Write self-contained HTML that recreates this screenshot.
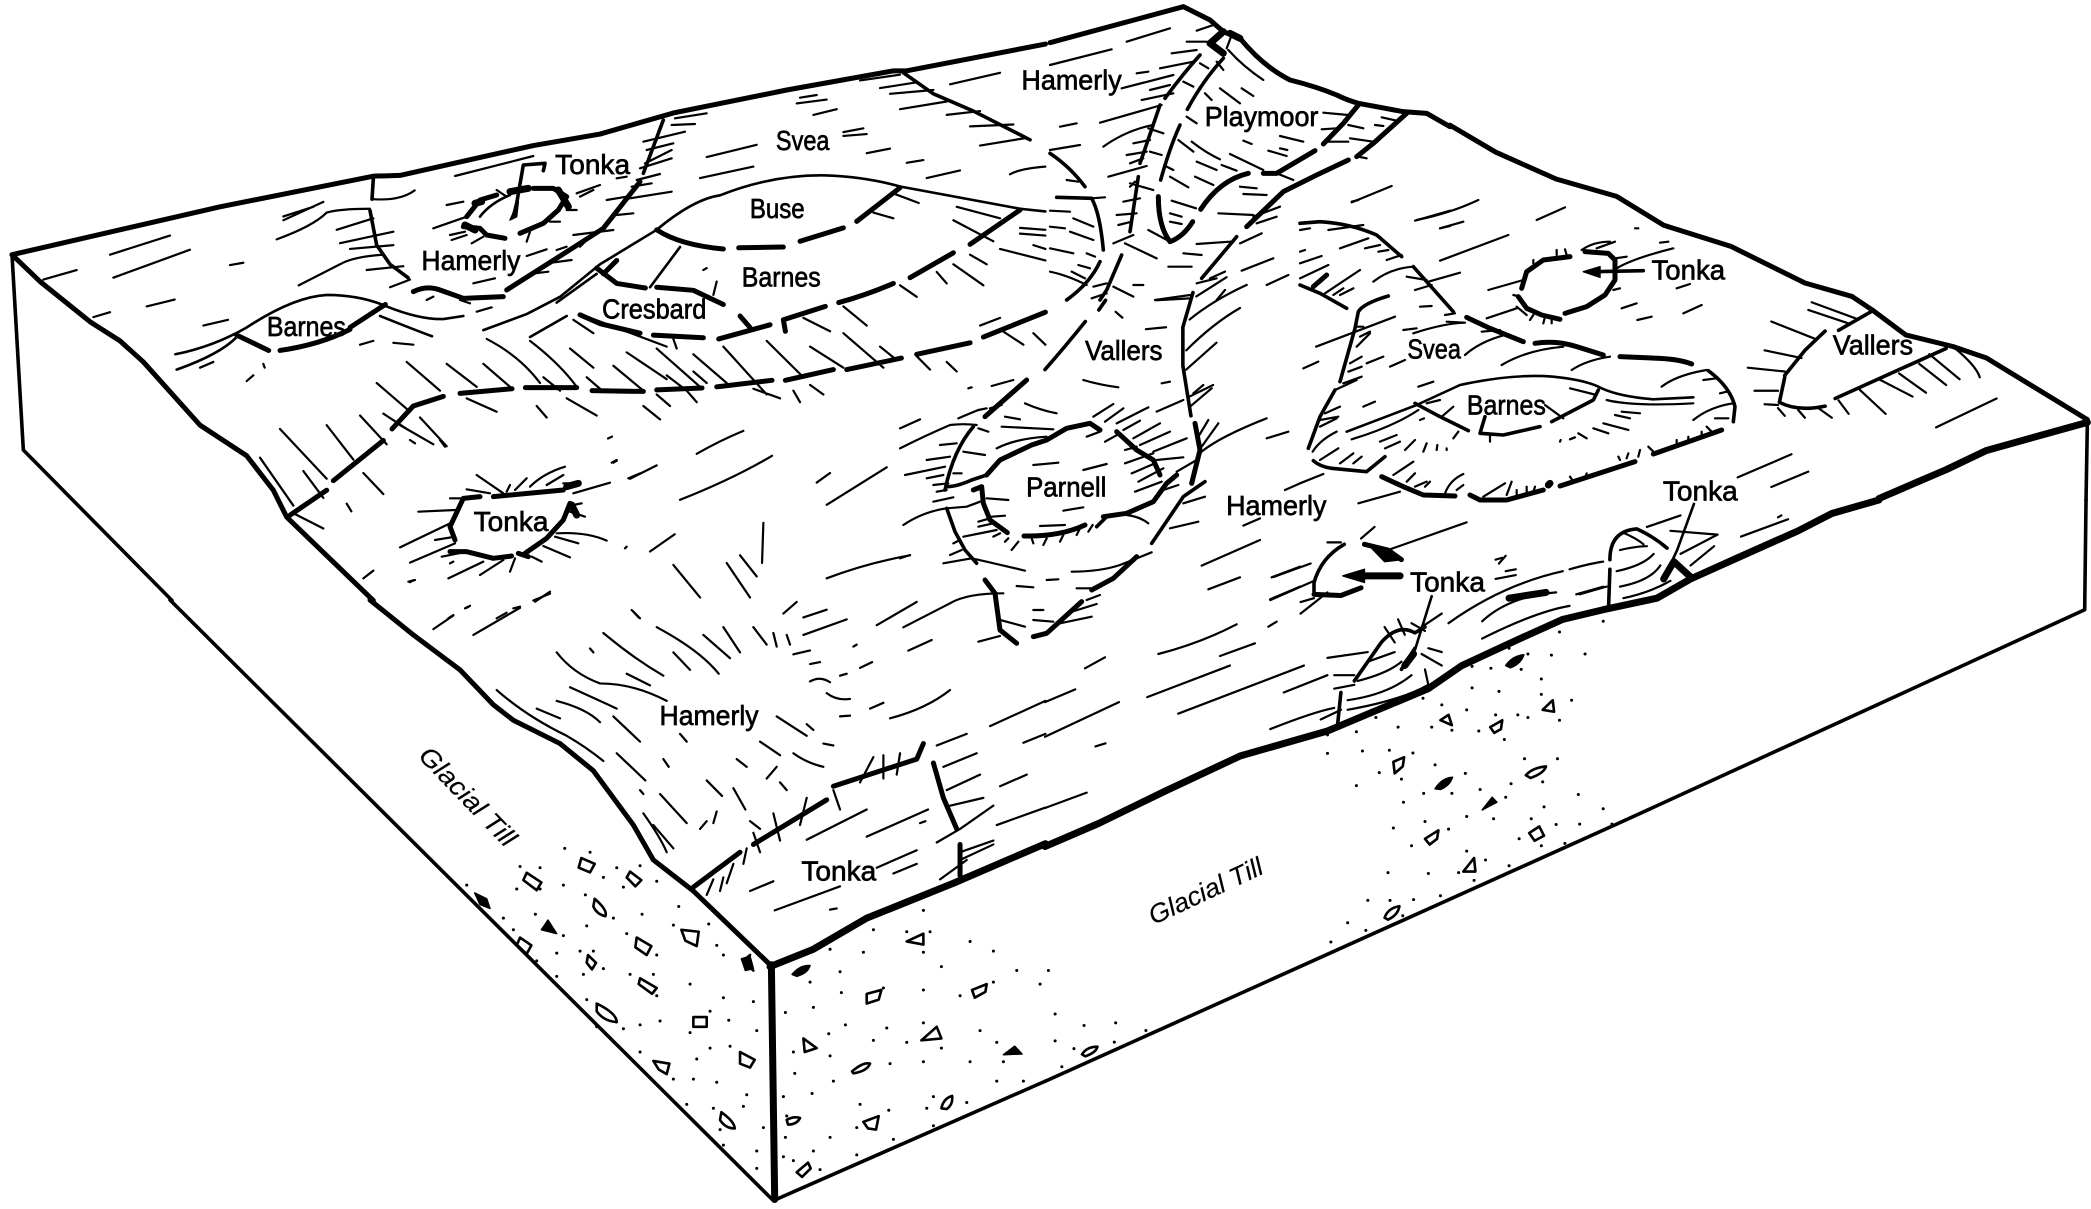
<!DOCTYPE html>
<html><head><meta charset="utf-8"><style>
html,body{margin:0;padding:0;background:#fff}
svg{display:block}
path{fill:none;stroke:#000;vector-effect:non-scaling-stroke;stroke-linecap:round;stroke-linejoin:round}
.t{stroke-width:2.2}.m{stroke-width:3.6}.k{stroke-width:5}.x{stroke-width:7}
.s{stroke-width:2.6}.f{fill:#000;stroke-width:1.5}
.d{stroke-width:3}
text{font-family:"Liberation Sans Narrow","Liberation Sans",sans-serif;font-size:21px;fill:#000;stroke:#000;stroke-width:.5;text-anchor:middle}
</style></head><body>
<svg width="2091" height="1209" viewBox="0 0 2091 1209" xmlns="http://www.w3.org/2000/svg">
<rect width="2091" height="1209" fill="#fff"/>

<!-- tile 1 -->
<g transform="scale(.6667,.383)">
<path class="k" d="M18,665 L330,540 L560,460 L600,458 L800,380 L900,350 L1010,295 L1180,235 L1340,185 L1360,185 L1568,115"/>
<path class="k" d="M18,665 L60,735 L135,840 L180,890 L215,945 L300,1110 L370,1190 L410,1280 L430,1350 L560,1568"/>
<path class="m" d="M18,665 L35,1175 L258,1568"/>
<path class="t" d="M165,665 L255,615M170,725 L285,652M345,692 L365,686M65,730 L115,705M220,800 L262,782M140,828 L165,815M305,850 L342,835M560,520 Q600,525 622,497M425,575 L485,527M425,565 L470,540M415,625 Q470,590 490,555 Q510,545 555,545M448,745 L510,690 Q530,670 575,665M505,600 L560,570M510,635 L590,605M525,650 L590,640M550,705 L605,695M585,750 L615,730M1060,410 L1135,378M1050,465 L1130,435M1200,255 L1225,248M1195,270 L1240,260M1220,300 L1255,285M1265,345 L1295,335M1265,355 L1300,350M1300,400 L1335,388M1360,425 L1385,418M1390,465 L1440,445M1425,220 L1500,190"/>
<path class="m" d="M560,465 L558,520M555,550 L565,640 L585,690 L612,725M1355,190 L1400,245 L1460,290 L1545,365"/>
<path class="t" d="M1290,210 L1350,195M1320,230 L1375,215M1335,245 L1400,235M1350,285 L1420,265M1420,300 L1470,290M1455,330 L1520,325M1470,380 L1540,360M1515,455 Q1530,440 1568,435M1340,505 L1378,530M1310,555 L1340,570M1435,540 L1500,570M1430,575 L1490,630M1530,595 L1568,600M1500,650 L1568,680M1530,610 L1568,615M1550,640 L1568,650"/>
<path class="s" d="M985,600 Q1040,520 1080,510 Q1160,455 1240,458 Q1300,462 1350,487 L1530,545 L1568,552M985,600 L900,690 L840,775 L790,820 L725,862M895,715 L835,790M795,880 L850,825M263,925 Q320,905 370,855 Q440,775 490,770 Q540,770 580,800 Q630,835 665,833 L695,825M265,965 Q330,925 355,880M570,825 Q620,860 648,878M1020,645 L975,750"/>
<path class="k" d="M985,600 Q1020,640 1085,650M1108,647 L1175,645M1200,630 L1265,595M1285,578 L1350,490M1530,548 L1455,638M1430,660 L1365,725M1340,740 Q1300,770 1258,790M1238,800 L1175,835 L1178,865M1155,848 L1078,885M1055,882 L980,875M960,870 L900,845 L870,822M895,700 L925,740 L968,752M985,750 L1040,758 L1085,795M1110,825 L1125,855M925,680 L905,715M578,795 L525,855M355,875 L403,915M420,915 Q480,900 525,860M1475,880 L1568,815M1375,925 L1455,895M1270,965 L1352,935M1178,993 L1250,965M1075,1010 L1158,993M985,1018 L1053,1013M888,1020 L965,1022M788,1012 L865,1012M690,1027 L768,1015M665,1035 L620,1060 L588,1120M575,1150 L500,1255M490,1280 L435,1345"/>
<path class="t" d="M730,885 Q780,930 810,1000M795,890 Q840,950 865,1010M855,910 L890,960M920,955 L965,1020M940,920 L1000,990M985,910 L1050,1010M1040,925 L1090,1000M1085,905 L1150,1030M1150,890 L1205,985M1215,905 L1265,960M1265,870 L1325,960M1320,905 L1345,940M610,945 L660,1020M670,950 L715,1010M725,950 L765,1010M565,1000 L615,1075M700,1040 L745,1075M805,1060 L820,1090M850,1040 L895,1085M965,1060 L990,1095M985,1030 L1005,1060M1030,1020 L1045,1050M1130,1015 L1170,1040M1190,1020 L1200,1050M1215,1005 L1235,1030M1420,945 L1435,970M1375,930 L1395,965M1265,800 L1300,850M1205,830 L1245,865M1350,745 L1375,775M1405,710 L1420,740M1430,690 L1475,745M1455,665 L1480,690M1470,850 L1500,830M1500,860 L1535,900M1550,870 L1568,900M1040,970 L1060,1000M880,985 L900,1015M815,985 L840,1020M1000,980 L1030,1020M420,1120 L490,1250M490,1110 L530,1200M540,1085 L580,1160M575,1080 L610,1120M600,1110 L650,1160M630,1090 L670,1165M545,1235 L575,1290M390,1195 L440,1320M455,1230 L485,1300M520,1315 L527,1335M440,1340 L485,1380M1045,1185 Q1080,1150 1115,1125M1020,1305 Q1100,1250 1158,1190M945,1250 L985,1215M1240,1318 L1330,1220M1225,1260 L1245,1235M912,1145 L918,1140M920,1208 L925,1203M1240,1510 Q1300,1470 1365,1450M1145,1365 L1143,1470M1110,1450 L1135,1505M1010,1475 L1050,1560M1090,1470 L1125,1560M975,1440 L1012,1395M825,1550 L800,1568M545,1510 L560,1490M615,1520 L620,1515M870,820 L1000,905M1010,885 L1015,910M860,835 L890,870M1075,735 L1070,770M1055,705 L1060,700M380,980 L370,995M395,950 L397,960M300,960 L320,945M540,900 L560,890M590,895 L620,900"/>
</g>

<!-- tile 2 -->
<g transform="translate(1045,0) scale(.6725,.385)">
<path class="k" d="M602,325 L670,395 L760,465 L850,510 L920,585 L1020,640 L1130,735 L1200,770 L1230,805 L1280,870 L1350,900 L1400,930 L1550,1090"/>
<path class="m" d="M1550,1095 L1548,1300"/>
<path class="x" d="M1240,1295 L1340,1220 L1400,1170 L1550,1097"/>
<path class="t" d="M165,780 L215,775M150,855 L180,850M105,810 L115,825M225,770 L270,720M215,830 Q250,780 300,740M210,910 Q250,840 290,800M210,960 L255,890M215,1030 L250,1000M880,705 L880,705"/>
<path class="m" d="M90,780 L80,805M60,835 Q30,900 0,960"/>
<path class="m" d="M220,760 L205,850 L205,950 L217,1080"/>
<path class="m" d="M1100,975 L1130,910 L1160,860M1228,810 L1180,858M1340,905 L1175,1035M1100,980 L1092,1045 Q1120,1070 1160,1055"/>
<path class="t" d="M1080,835 L1145,880M1070,910 L1125,930M1045,955 L1100,965M1140,785 L1210,830M1135,805 L1195,840M1350,900 Q1385,950 1390,980M1315,920 L1360,985M1300,945 L1340,1000M1270,970 L1310,1020M1240,985 L1290,1030M1210,1010 L1250,1075M1180,1040 L1195,1075M1055,1015 L1090,1015M1070,1050 L1090,1052M1090,1060 L1100,1080M1120,1065 L1130,1085M1150,1060 L1170,1085M1325,1110 L1415,1035M1030,1240 L1110,1180M1080,1265 L1135,1225"/>
</g>

<!-- tile 3 -->
<g transform="translate(0,600) scale(.6667,.388)">
<path class="k" d="M555,0 L620,90 L690,180 L740,270 L770,310 L840,370 L890,440 L950,580 L980,670 L1040,750 L1155,940"/>
<path class="x" d="M1157,940 L1162,1545"/>
<path class="x" d="M1155,945 L1220,900 L1300,820 L1430,730 L1568,628"/>
<path class="m" d="M255,0 L1160,1548 L1568,1240"/>
<path class="t" d="M650,75 L680,40M710,90 L780,20M700,20 L705,15M950,30 L958,45M1175,35 L1195,5M1205,90 L1270,50M1205,45 L1240,25M1315,65 L1375,5M1280,120 L1285,115M1290,175 L1308,160M1305,280 L1325,265M1335,305 Q1390,280 1425,232M835,135 Q860,190 900,215 Q950,215 1000,260M905,85 Q950,150 995,195M985,70 Q1050,130 1078,190M1010,135 L1035,180M1055,90 L1095,150M1085,70 L1110,135M1130,70 L1150,115M1160,85 L1165,120M1180,90 L1185,115M855,225 Q900,260 925,280M835,260 Q880,280 900,315M805,280 L840,305M940,190 L975,220M920,300 L960,365M925,395 L968,465M995,410 L1003,430M1105,410 L1120,430M1060,465 L1083,505M990,500 L1030,575M960,490 L965,500M1100,485 L1118,540M1165,300 L1210,350M1140,365 L1170,400M1210,320 L1220,335M1020,345 L1030,365M885,125 L890,135M1190,395 Q1210,420 1235,430M1235,370 L1250,375M1240,240 Q1255,260 1275,255M1215,210 Q1230,195 1245,212M1190,140 L1215,130M1215,165 L1230,160M1260,195 L1270,190M1260,300 L1275,298M965,550 Q990,610 1000,650M980,580 L1010,640M1125,570 L1140,590M1165,430 L1150,460M1050,590 L1060,570M1075,545 L1070,575M1170,470 L1180,490M745,232 Q790,300 850,350 Q880,380 905,415M1060,760 L1070,720M1090,730 L1100,680M1115,680 L1120,640M1140,650 L1130,600M1170,620 L1160,550M1200,580 L1210,510M1260,540 L1250,490M1290,470 L1310,405M1325,460 L1325,400M1345,450 L1350,395M1080,750 L1085,715M1405,375 L1450,345M1415,430 L1465,395M1420,490 L1470,450M1425,530 L1475,510M1440,590 L1490,530M1405,625 L1440,590M1440,650 L1490,620M1440,670 L1490,630M1410,720 L1450,670M1210,618 L1300,540M1300,610 L1392,540M1380,575 L1388,570M1495,580 L1568,535M1485,325 L1568,260M1535,368 L1568,345M1500,480 L1540,450M1315,690 L1375,645M1340,705 L1375,680M1125,750 L1160,725M1162,800 L1260,738M1245,798 L1255,795"/>
<path class="k" d="M1040,740 L1110,650M1130,630 L1240,515M1250,480 L1375,410 L1385,370M1400,420 L1415,510 L1435,590M1440,630 L1440,710"/>
<path class="d" d="M847,640h.1M780,687h.1M810,690h.1M925,690h.1M885,650h.1M905,715h.1M960,685h.1M985,725h.1M700,735h.1M775,745h.1M810,745h.1M845,735h.1M878,760h.1M935,740h.1M1018,790h.1M755,820h.1M803,810h.1M770,850h.1M880,840h.1M920,820h.1M963,810h.1M1010,838h.1M1063,835h.1M845,865h.1M940,860h.1M835,910h.1M870,905h.1M890,905h.1M985,915h.1M1075,890h.1M1085,915h.1M805,930h.1M835,970h.1M875,965h.1M905,950h.1M945,965h.1M980,965h.1M1035,990h.1M1085,1025h.1M1130,1035h.1M985,1020h.1M880,1030h.1M960,1095h.1M990,1085h.1M1065,1060h.1M1093,1083h.1M1035,1115h.1M1135,1110h.1M935,1105h.1M895,1100h.1M1065,1155h.1M1095,1150h.1M960,1165h.1M1045,1183h.1M1010,1235h.1M1040,1235h.1M1075,1243h.1M1120,1275h.1M1030,1300h.1M1070,1310h.1M1115,1305h.1M1145,1360h.1M1085,1405h.1M1135,1420h.1M1080,1365h.1M1135,1465h.1M1260,958h.1M1215,985h.1M1245,900h.1M1295,908h.1M1385,800h.1M1310,850h.1M1360,855h.1M1395,855h.1M1455,880h.1M1412,945h.1M1490,905h.1M1525,955h.1M1385,908h.1M1262,1012h.1M1220,1050h.1M1178,1063h.1M1325,1000h.1M1385,1005h.1M1490,985h.1M1440,1020h.1M1560,990h.1M1268,1095h.1M1330,1103h.1M1385,1090h.1M1243,1118h.1M1470,1110h.1M1190,1165h.1M1412,1155h.1M1360,1140h.1M1495,1140h.1M1245,1175h.1M1455,1190h.1M1385,1190h.1M1505,1190h.1M1310,1135h.1M1192,1220h.1M1250,1240h.1M1495,1240h.1M1535,1240h.1M1335,1195h.1M1218,1272h.1M1175,1280h.1M1400,1280h.1M1450,1295h.1M1290,1300h.1M1333,1315h.1M1390,1310h.1M1180,1330h.1M1178,1385h.1M1285,1360h.1M1400,1355h.1M1340,1390h.1M1245,1385h.1M1220,1420h.1M1285,1430h.1M1175,1435h.1M1230,1468h.1M1190,1445h.1"/>
<path class="s" d="M790,703 L812,728 L805,748 L785,722zM872,665 L892,680 L885,702 L868,690zM945,700 L962,722 L953,738 L940,715zM892,770 Q912,800 908,815 Q895,810 890,790zM780,870 L797,890 L790,912 L775,890zM955,870 L977,892 L970,915 L953,895zM1022,850 L1048,855 L1045,892 L1028,878zM882,915 L894,935 L888,952 L880,935zM960,975 L985,1000 L978,1015 L958,990zM895,1040 Q925,1065 925,1088 Q905,1085 895,1060zM1040,1075 L1060,1075 L1060,1100 L1040,1100zM980,1188 L1004,1195 L1000,1222 L988,1210zM1110,1165 L1132,1185 L1125,1205 L1110,1195zM1082,1320 Q1102,1345 1102,1362 Q1088,1362 1080,1340zM1360,880 L1385,860 L1385,888zM1300,1015 L1322,1005 L1318,1030 L1300,1040zM1458,1005 L1480,990 L1478,1010 L1462,1025zM1382,1135 L1405,1100 L1412,1130zM1205,1130 L1225,1155 L1207,1165zM1278,1215 Q1295,1190 1305,1195 Q1300,1215 1280,1220zM1412,1310 Q1415,1285 1428,1278 Q1430,1300 1420,1312zM1295,1345 L1318,1330 L1314,1365 L1302,1362zM1180,1340 Q1190,1330 1200,1335 Q1195,1352 1182,1352zM1195,1475 L1212,1450 L1216,1465 L1203,1487z"/>
<path class="f" d="M712,755 L730,770 L735,795 L720,785zM812,850 L822,825 L835,860zM1112,925 L1125,918 L1130,950 L1118,955zM1188,965 Q1200,940 1215,942 Q1212,962 1195,970zM1505,1172 L1522,1150 L1533,1170z"/>
<path class="s" d="M1125,915 L1115,930 L1130,955"/>
</g>

<!-- tile 4 -->
<g transform="translate(1045,500) scale(.6725,.385)">
<path class="x" d="M0,900 L80,840 L180,755 L290,665 L420,600 L570,490 L620,430 L700,365 L770,310 L830,285 L910,255 L960,205 L1030,150 L1120,80 L1170,35 L1240,0"/>
<path class="m" d="M1548,0 L1546,285 L850,842 L0,1510"/>
<path class="m" d="M400,215 Q410,150 445,115M400,215 L400,245"/>
<path class="k" d="M475,115 L510,130 L530,155M400,245 L440,248 L470,228"/>
<path class="x" d="M465,197 L528,197"/><path class="f" d="M443,197 L475,180 L475,214z M480,115 L530,155 L505,160z"/>
<path class="t" d="M510,130 L627,58M340,200 L395,165M335,260 L400,210M380,295 L420,240M380,265 L400,255M470,100 L490,70M440,110 L420,110M0,525 L45,492M152,512 L275,430M198,555 L385,430M355,500 L420,455M0,615 L110,525M75,640 L90,632M0,800 L62,760"/>
<path class="m" d="M460,470 Q480,420 500,370 Q525,320 550,345 L565,330M530,440 L550,385M840,155 Q840,80 880,75 Q905,95 925,125M440,500 L435,585M840,180 L838,280"/>
<path class="s" d="M575,250 L550,390M965,10 L940,130 L920,205"/>
<path class="t" d="M430,455 L460,455M420,410 L480,395M430,490 L460,480M410,570 L440,545M335,595 Q400,550 430,540M450,545 Q530,520 570,480M450,520 Q510,505 545,455M465,470 Q510,450 530,420M480,420 L520,395M560,400 L590,430M570,385 L590,395M565,440 L570,480M600,320 Q680,220 770,185M650,315 Q690,250 760,240M650,360 Q730,290 780,275M780,180 Q810,165 830,160M795,245 L835,225M670,205 L700,195M675,165 L685,145M670,155 L680,150M685,185 L700,180M790,245 L830,225M860,255 Q900,240 930,210M855,225 Q900,210 915,170M850,185 Q890,170 905,140M855,130 Q880,120 895,120M860,85 Q880,100 890,115M895,70 L945,40M930,80 L1000,90M945,140 L1000,90M960,170 L995,120M1035,95 L1105,50M1090,45 L1095,40M505,330 L520,370M525,310 L535,350M545,320 L565,340M590,295 L560,330"/>
<path class="x" d="M690,255 L745,240M920,205 L935,160 L960,200M535,430 L548,400"/>
<path class="d" d="M830,315h.1M765,343h.1M690,385h.1M635,432h.1M803,400h.1M753,403h.1M718,400h.1M663,437h.1M708,440h.1M738,465h.1M738,505h.1M783,520h.1M765,572h.1M635,488h.1M675,497h.1M627,545h.1M590,532h.1M562,515h.1M525,590h.1M492,565h.1M463,602h.1M420,610h.1M575,590h.1M605,598h.1M645,600h.1M703,558h.1M718,565h.1M670,558h.1M683,622h.1M420,658h.1M472,652h.1M512,650h.1M547,657h.1M580,688h.1M497,708h.1M530,725h.1M463,742h.1M625,710h.1M693,737h.1M740,732h.1M713,672h.1M762,672h.1M563,762h.1M605,762h.1M533,785h.1M647,752h.1M685,772h.1M793,765h.1M742,797h.1M830,802h.1M627,822h.1M667,828h.1M723,828h.1M760,843h.1M795,842h.1M843,842h.1M518,852h.1M565,835h.1M600,855h.1M545,898h.1M705,880h.1M738,898h.1M773,892h.1M627,912h.1M655,935h.1M690,950h.1M510,968h.1M570,970h.1M615,968h.1M638,988h.1M588,1028h.1M548,1038h.1M480,1040h.1M513,1040h.1M450,1098h.1M477,1118h.1M425,1148h.1M532,1080h.1M5,1222h.1M15,1335h.1M58,1365h.1M105,1358h.1M150,1378h.1M15,1405h.1M43,1425h.1M103,1408h.1M25,1472h.1"/>
<path class="s" d="M740,545 L755,520 L757,550zM588,572 L600,558 L605,585zM662,590 L680,572 L678,595 L668,605zM518,680 L534,668 L532,692 L520,710zM715,715 Q725,695 745,692 Q742,710 722,722zM565,880 L585,858 L583,880 L572,895zM720,865 L735,848 L742,872 L728,885zM622,965 L638,930 L640,965zM505,1085 Q510,1060 527,1055 Q525,1078 510,1090zM55,1440 Q62,1420 78,1420 Q76,1435 60,1445z"/>
<path class="f" d="M685,430 Q695,405 712,402 Q708,425 692,436zM580,750 Q590,722 606,720 Q602,742 588,752zM650,805 L665,772 L672,785z"/>
</g>

<!-- detail: Parnell -->
<g transform="translate(900,380) scale(.33333)">
<path class="t" d="M205,25 L215,22M275,18 L340,0M375,70 Q420,90 470,100M550,0 Q600,15 655,22M0,145 L60,118M0,205 Q80,165 150,135 Q190,130 230,135M120,195 L170,190M80,240 L150,230M190,215 L255,225M235,145 L265,155M15,285 L135,260M80,295 L130,285M100,315 L145,310M110,335 L140,330M100,365 L160,352M160,280 L185,280M175,115 Q210,100 235,90 L260,85M315,110 L360,118M270,85 L305,75M290,205 Q350,175 440,170M305,140 L460,148M580,110 L640,72M615,125 L670,85M650,130 L745,82M670,150 L720,122M700,175 L780,130M720,195 L810,155M675,210 L710,200M760,215 L860,175M770,240 L850,232M675,250 L760,220M695,280 L765,250M715,305 L790,265M705,335 L785,305M560,170 L600,155M615,185 L660,160M770,95 L850,60M870,80 L935,25M880,40 L910,15M785,10 L810,5M895,170 L925,120M905,200 L955,130M905,215 Q960,170 1100,115M830,275 L890,240M1100,175 L1165,155M680,405 Q720,410 745,430M790,330 L835,315M850,370 L915,350M810,445 L895,425M565,455 L578,435M420,438 L495,435M490,392 L550,382M400,490 L395,475M430,495 L440,475M480,485 L490,465M530,465 L540,445M260,355 L325,360M275,410 L315,407M235,425 L270,415M235,440 L280,430M190,470 L290,450M280,470 L300,460M315,485 L325,475M335,510 L355,485M400,255 L475,248M550,270 L620,252M10,435 Q70,395 140,385 L200,380 L240,365M130,550 L215,535 L260,545 L375,572M150,525 L185,510M160,490 L180,480M30,525 L0,535M350,618 L400,622M440,600 L475,598M515,575 Q600,575 660,555 L755,517M530,625 L575,625M560,660 L600,645M400,690 L430,690M400,720 L460,725M480,730 L575,710M500,700 L590,672M10,742 L150,670 Q200,640 310,640M300,720 L375,740M235,785 L300,768M25,812 L95,780M555,865 L615,832M905,557 L1080,480M925,628 L1020,592M1030,437 L1080,415M1115,592 L1200,560M1110,658 L1200,620M1105,740 L1130,725M775,822 Q900,790 1010,733M960,828 L1065,790M1155,330 L1200,310"/>
<path class="m" d="M220,140 Q160,210 135,330M140,320 Q170,320 215,300 L260,285M590,440 L620,410M140,385 L165,455 L195,510 L230,550M755,490 L850,350 L915,305"/>
<path class="k" d="M380,0 L255,110M260,285 L300,240 L395,195 L440,180 L500,145 L570,130 L600,150M650,155 L710,210 L760,240 L780,285M885,130 L900,210 L875,310M610,410 L680,400 L760,365 L800,310 L830,285M372,468 Q480,470 555,435M220,330 L245,320 L250,370 L270,420 L322,458M575,630 L640,595 L710,530M400,770 L440,760 L545,665M255,600 L285,640 L300,750 L350,790"/>
</g>

<!-- detail: Playmoor / top centre -->
<g transform="translate(1050,0) scale(.33333)">
<path class="k" d="M0,128 L400,20 L480,60 L520,95 L570,115 Q640,200 720,240 Q800,260 860,285 Q890,300 925,310 L1060,335 L1130,340 L1200,380"/>
<path class="x" d="M520,95 L480,130 L520,160M540,100 L570,115"/>
<path class="t" d="M530,145 L545,105M535,150 Q580,200 640,240M440,92 L490,75M410,125 L470,125M365,160 L440,150M330,205 L430,185M260,220 L295,215M215,265 L370,225M300,270 L360,255M275,300 L370,280M150,368 L335,315M30,380 L80,370M160,440 Q230,390 310,375M250,430 L300,420M230,465 L290,455M240,490 L280,475M295,385 L340,400M300,455 L335,465M175,530 L290,498M0,450 L90,435M230,125 L360,85M0,195 L185,148M450,190 L475,205M500,185 L520,210M400,245 L430,260M465,280 L485,300M510,265 L570,310M575,265 L610,288M410,350 L440,370M385,420 L430,455M425,425 Q470,460 510,478M540,462 L640,510M440,485 L500,510M515,495 L560,512M360,530 L415,562M435,530 L490,555M350,500 L370,510M690,408 L760,425M580,422 L605,432M655,452 L710,468M690,445 L712,450M820,338 L895,345M895,375 L940,385M815,388 L860,385M830,425 L895,425M900,415 L970,425M975,375 L1000,378M995,352 L1040,362M925,470 L950,475M680,520 L730,540M570,560 L620,565M580,582 L650,585M505,640 L610,645M365,602 L438,625M360,640 L395,650M360,665 L395,672M295,690 L360,725M225,730 L320,775M440,732 L540,725M400,760 L455,765M355,800 L425,800M250,855 L280,855M190,860 L250,890M575,812 L670,775M650,855 L715,825M905,607 L1025,558M1095,662 L1200,632M1170,685 L1200,678M610,650 L690,620M620,670 L680,650M570,730 L635,700M480,835 L525,815M440,850 L500,835M500,900 L525,870M315,900 L420,885M240,550 L310,570M220,605 L270,595M200,645 L260,640M205,675 L245,665M190,730 L250,705M240,560 L255,545M0,632 L60,635M70,655 L130,680M0,680 L45,685M60,695 L130,720M0,745 L70,760M110,760 L135,770M85,795 L120,805M0,815 Q50,825 110,855M65,815 L105,835M130,860 L170,850M125,895 L170,880M125,595 L165,592M50,540 L85,545"/>
<path class="m" d="M450,165 Q400,220 345,295M520,175 Q460,240 412,328M330,315 L270,490M390,375 Q360,440 332,540M265,530 L240,695M560,710 L455,835M0,460 Q60,500 105,560M20,592 L125,595 Q150,640 160,750M150,785 Q120,850 50,900M215,765 L170,870 L150,900"/>
<path class="k" d="M325,590 Q325,680 360,725 Q400,710 428,665M595,520 Q510,540 452,628M640,520 L680,520 L795,452M925,315 L880,370 L820,432M1070,340 L970,430 L920,470M895,480 L800,525 L700,575 L590,680"/>
</g>

<!-- detail: Tonka + scarp, top left -->
<g transform="translate(350,100) scale(.33333)">
<path class="k" d="M350,350 L390,300 L440,285M340,380 L390,385 L410,405 L465,415M510,400 L580,370 L625,330 L650,290 L610,265 L550,265M870,245 L760,385 L690,430 L470,570M190,575 Q230,555 270,570 L340,595 L460,590"/>
<path class="x" d="M625,270 L655,320M480,275 L535,265M375,310 L395,305M345,375 L375,390"/>
<path class="s" d="M390,350 Q420,310 480,285"/>
<path class="m" d="M490,350 L500,310 L520,195 L585,190 L580,212M880,220 L940,60"/>
<path class="f" d="M480,360 L505,305 L500,350z"/>
<path class="t" d="M250,385 L350,350M300,405 L345,395M305,420 L350,405M365,430 L400,410M290,315 L340,305M440,270 L470,290M530,425 L540,395M600,365 L630,365M650,330 L680,330M680,280 L750,255M690,290 L730,270M315,228 L550,168M975,55 L1070,40M965,75 L1035,72M880,125 L1005,95M890,150 L970,130M885,190 L965,150M870,205 L965,175M860,240 L930,222M845,260 L905,250M770,300 L830,290M840,295 L965,275M800,345 L850,340M670,405 L790,390M690,440 L720,410M530,468 L590,448M590,490 L665,480M620,450 L650,440M555,520 L595,515M800,235 L830,230M230,600 L250,590M330,600 L360,610M370,550 L435,535M380,635 L425,622"/>
</g>

<!-- detail: Svea / Barnes / Tonka right -->
<g transform="translate(1300,200) scale(.33333)">
<path class="m" d="M0,70 L60,65 Q150,70 230,105 L305,170M0,255 L60,280 L140,325M340,200 L460,335M265,288 Q190,310 175,335 L165,385 L120,545M105,570 L60,650 L25,745M345,610 L420,650 L505,692M895,570 L880,600 L755,665M720,680 L610,705 L540,700 L555,650M40,782 Q60,800 95,805 L200,815 L255,770M1225,512 Q1290,560 1305,620 L1300,665"/>
<path class="k" d="M40,260 L80,225M500,352 L570,385 L670,425M705,430 Q770,420 830,440 L910,465M960,470 L1080,475 Q1140,478 1175,492M810,170 L730,180 L680,215 L665,265M655,290 L680,325 L725,345 L780,358M795,340 L860,320 L915,285 L945,240 L945,180 L925,160 L855,155M245,830 L310,860 L370,885 L465,888M510,885 L540,900 L620,900 L730,870M780,858 L1005,785M1060,762 L1265,690"/>
<path class="x" d="M745,855 L750,850"/>
<path class="m" d="M880,215 L1030,212"/>
<path class="f" d="M850,215 L900,200 L900,232z"/>
<path class="s" d="M140,695 L350,615 L480,555 Q640,520 760,530 Q860,540 905,565 Q960,590 1060,598 L1180,592"/>
<path class="t" d="M0,90 L30,85M85,90 L190,75M120,145 L205,115M195,145 L240,135M235,155 L265,150M260,180 L305,165M0,155 L15,150M0,190 L65,168M0,235 L85,195M75,280 L180,210M100,285 L130,265M120,285 L160,265M220,245 Q270,205 340,200M320,230 L380,240M345,270 L395,255M360,320 L395,318M385,245 L480,218M435,345 L465,340M440,365 L495,368M420,182 L625,105M420,85 L490,65M350,60 Q450,40 535,0M710,60 L795,22M155,5 L175,0M565,270 L670,240M560,355 L650,325M650,320 L680,345M700,190 L700,180M770,165 L770,150M800,165 L795,148M845,150 Q880,125 930,125M890,145 L945,125M945,175 L980,170M950,205 Q1000,175 1120,145M1080,128 L1105,125M940,270 L960,265M640,285 L660,290M690,360 L700,345M730,370 L735,350M755,370 L755,350M1130,265 L1170,252M965,325 L1010,310M1012,360 L1055,350M1150,340 L1205,315M1005,85 L1015,85M48,440 L285,350M170,440 L210,400M190,380 L170,380M180,410 L210,395M150,490 L185,470M145,515 L185,500M130,550 L185,530M10,505 L55,485M200,490 L250,470M270,500 L315,480M310,390 L350,385M340,400 Q430,370 495,368M495,465 Q540,425 615,405M545,395 L600,390M605,495 Q680,450 790,440M815,510 Q860,480 930,470M1085,560 Q1130,525 1220,510M1180,660 Q1230,620 1300,610M1245,655 L1285,655M1210,540 L1250,535M1260,580 L1280,575M355,560 L400,545M190,620 L225,605M105,570 L170,540M75,640 L120,620M60,660 L115,650M60,680 L110,655M38,755 Q60,720 110,695M920,600 Q1000,620 1180,610M810,565 L890,585M735,615 L790,655M155,718 Q280,680 355,630M240,725 L290,705M255,745 L300,725M315,750 L345,720M370,755 L380,730M410,750 L412,735M440,750 L440,745M425,650 L460,620M360,660 L372,655M380,610 L420,600M570,725 L570,705M460,715 L475,695M780,725 L782,720M810,718 L825,712M835,700 L860,715M880,685 L925,700M910,670 L985,690M945,645 L990,655M965,635 L1020,640M60,780 L115,745M120,790 L160,760M160,790 L185,770M280,825 L340,785M320,845 L345,820M345,860 L380,845M375,860 L390,845M435,880 Q450,840 490,822M470,870 L490,855M550,890 L615,850M620,885 L635,845M650,885 L650,870M680,875 L680,860M700,875 L705,860M855,835 L860,820M820,845 L810,830M960,780 L955,770M980,775 L985,760M1015,770 L1020,750M1045,740 L1065,760M1130,740 L1130,720M1165,725 L1165,710M1205,710 L1205,695M1235,695 L1220,680M0,850 L70,822M175,910 L300,875"/>
</g>

<!-- detail: Tonka left -->
<g transform="translate(400,440) scale(.33333)">
<path class="k" d="M280,170 L490,150M510,190 L490,240 L440,295 L375,340M355,340 L385,350M335,348 L280,355 L200,335 L150,335M165,300 L150,260 L190,175 L240,170"/>
<path class="x" d="M500,140 L535,130M515,195 L530,225"/>
<path class="t" d="M230,105 L310,160M200,148 L270,160M150,175 L210,175M55,215 L165,210M0,322 L150,250M105,300 L165,290M30,368 L165,310M125,350 L200,335M150,370 L160,365M145,415 L250,365M240,405 L310,360M330,395 L345,355M395,350 L425,365M430,318 L510,352M465,290 L535,310M470,280 Q560,275 620,302M520,160 L630,128M510,215 L555,230M520,195 L545,190M320,155 L330,135M345,150 L380,115M390,140 Q430,100 495,80M440,135 L490,105M490,130 L530,130M635,68 L650,60M685,115 L720,100M675,325 L680,320M405,485 L450,455M290,535 L320,518M340,505 L360,500M195,505 L205,500M145,535 L160,525M25,425 L45,420M695,510 L720,535M30,0 L45,10M120,0 L135,20"/>
</g>

<!-- labels -->
<g transform="scale(1.3378)">
<text x="801" y="67" textLength="75" lengthAdjust="spacingAndGlyphs">Hamerly</text>
<text x="943" y="94" textLength="85" lengthAdjust="spacingAndGlyphs">Playmoor</text>
<text x="600" y="112" textLength="40" lengthAdjust="spacingAndGlyphs">Svea</text>
<text x="443" y="130" textLength="56" lengthAdjust="spacingAndGlyphs">Tonka</text>
<text x="581" y="163" textLength="41" lengthAdjust="spacingAndGlyphs">Buse</text>
<text x="352" y="202" textLength="74" lengthAdjust="spacingAndGlyphs">Hamerly</text>
<text x="1262" y="209" textLength="55" lengthAdjust="spacingAndGlyphs">Tonka</text>
<text x="584" y="214" textLength="59" lengthAdjust="spacingAndGlyphs">Barnes</text>
<text x="489" y="238" textLength="78" lengthAdjust="spacingAndGlyphs">Cresbard</text>
<text x="229" y="251" textLength="59" lengthAdjust="spacingAndGlyphs">Barnes</text>
<text x="1072" y="268" textLength="40" lengthAdjust="spacingAndGlyphs">Svea</text>
<text x="840" y="269" textLength="58" lengthAdjust="spacingAndGlyphs">Vallers</text>
<text x="1400" y="265" textLength="60" lengthAdjust="spacingAndGlyphs">Vallers</text>
<text x="1126" y="310" textLength="59" lengthAdjust="spacingAndGlyphs">Barnes</text>
<text x="797" y="371" textLength="60" lengthAdjust="spacingAndGlyphs">Parnell</text>
<text x="954" y="385" textLength="75" lengthAdjust="spacingAndGlyphs">Hamerly</text>
<text x="1271" y="374" textLength="56" lengthAdjust="spacingAndGlyphs">Tonka</text>
<text x="382" y="397" textLength="56" lengthAdjust="spacingAndGlyphs">Tonka</text>
<text x="1082" y="442" textLength="56" lengthAdjust="spacingAndGlyphs">Tonka</text>
<text x="530" y="542" textLength="74" lengthAdjust="spacingAndGlyphs">Hamerly</text>
<text x="627" y="658" textLength="56" lengthAdjust="spacingAndGlyphs">Tonka</text>
<text transform="translate(904,672) rotate(-25)" textLength="92" lengthAdjust="spacingAndGlyphs" style="font-style:italic;stroke-width:.1;font-size:19.5px">Glacial Till</text>
<text transform="translate(345,600) rotate(46)" textLength="95" lengthAdjust="spacingAndGlyphs" style="font-style:italic;stroke-width:.1;font-size:19.5px">Glacial Till</text>
</g>
</svg>
</body></html>
